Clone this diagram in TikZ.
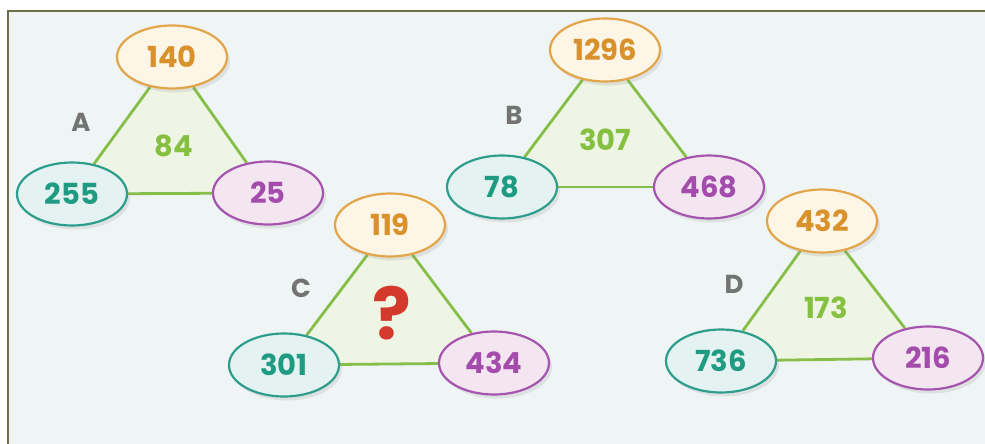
\documentclass[tikz,border=0pt]{standalone}
\usepackage{fontspec}
\setmainfont{Poppins}
\usetikzlibrary{shapes.geometric,shadows,backgrounds}
\definecolor{bgc}{HTML}{EFF4F5}
\definecolor{framec}{HTML}{6E6E48}
\definecolor{orB}{HTML}{E3A54A}
\definecolor{orT}{HTML}{D9922B}
\definecolor{orF}{HTML}{FDF5E6}
\definecolor{teB}{HTML}{2E9E8C}
\definecolor{teT}{HTML}{1E9B80}
\definecolor{teF}{HTML}{E4F2F1}
\definecolor{puB}{HTML}{A555AE}
\definecolor{puT}{HTML}{A34CAB}
\definecolor{puF}{HTML}{F3E6F1}
\definecolor{grL}{HTML}{86BE4A}
\definecolor{grT}{HTML}{86C041}
\definecolor{grF}{HTML}{EEF5E4}
\definecolor{grayT}{HTML}{737373}
\definecolor{redT}{HTML}{D43A2C}
\tikzset{
  oval/.style={ellipse, minimum width=110pt, minimum height=63pt, inner sep=0pt, line width=2.2pt,
    font=\fontsize{29}{29}\selectfont\bfseries,
    drop shadow={opacity=0.16, shadow xshift=3pt, shadow yshift=-4pt}},
  topo/.style={oval, draw=orB, fill=orF, text=orT},
  lefto/.style={oval, draw=teB, fill=teF, text=teT},
  righto/.style={oval, draw=puB, fill=puF, text=puT},
  mid/.style={font=\fontsize{29}{29}\selectfont\bfseries, text=grT},
  letter/.style={font=\fontsize{26}{26}\selectfont\bfseries, text=grayT},
  edge/.style={draw=grL, line width=2.8pt},
  tri/.style={fill=grF}
}
\begin{document}
\begin{tikzpicture}[x=1pt,y=-1pt]
\useasboundingbox (0,0) rectangle (985,444);
% nodes
\node[topo] (a1) at (172,57) {140};
\node[lefto] (a2) at (72,194) {255};
\node[righto] (a3) at (268,193) {25};
\node[mid] (am) at (174,146) {84};
\node[letter] (al) at (81,122) {A};

\node[topo] (b1) at (605,50) {1296};
\node[lefto] (b2) at (502,187) {78};
\node[righto] (b3) at (709,187) {468};
\node[mid] (bm) at (605,140) {307};
\node[letter] (bl) at (514,115) {B};

\node[topo] (c1) at (390,225) {119};
\node[lefto] (c2) at (284,365) {301};
\node[righto] (c3) at (494,363) {434};
\node[font=\fontsize{72}{72}\selectfont\bfseries, text=redT] (cm) at (392,313) {?};
\node[letter] (cl) at (301,288) {C};

\node[topo] (d1) at (822,221) {432};
\node[lefto] (d2) at (721,361) {736};
\node[righto] (d3) at (928,358) {216};
\node[mid] (dm) at (826,308) {173};
\node[letter] (dl) at (734,284) {D};

\begin{scope}[on background layer]
  \fill[white] (0,0) rectangle (985,444);
  \fill[bgc] (9,12) rectangle (985,444);
  \draw[framec, line width=2pt] (8,444) -- (8,11) -- (985,11);
  \foreach \t in {a,b,c,d}{
    \fill[tri] (\t1.center) -- (\t2.center) -- (\t3.center) -- cycle;
    \draw[edge] (\t1) -- (\t2);
    \draw[edge] (\t2) -- (\t3);
    \draw[edge] (\t3) -- (\t1);
  }
\end{scope}
\end{tikzpicture}
\end{document}
